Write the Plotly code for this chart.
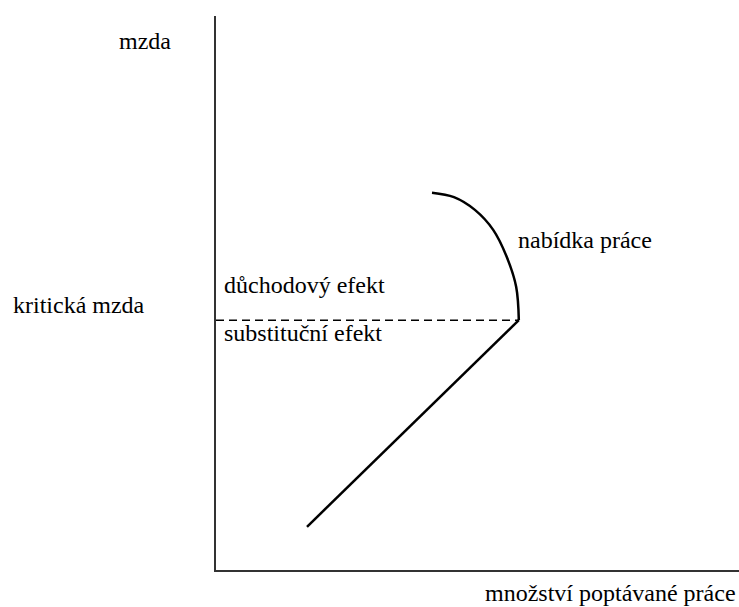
import plotly.graph_objects as go

# Values (arbitrary units, axes 0..10)
critical_wage = 4.51
kink_x = 5.79

lower_x = [1.74, 5.79]
lower_y = [0.78, 4.51]

arc_x = [5.79, 5.74, 5.56, 5.30, 4.95, 4.55, 4.13]
arc_y = [4.51, 5.11, 5.65, 6.14, 6.50, 6.73, 6.81]

dash_x = [0, kink_x]
dash_y = [critical_wage, critical_wage]

FONT = "Liberation Serif"
FS = 24

fig = go.Figure()
fig.add_trace(go.Scatter(x=dash_x, y=dash_y, mode="lines",
                         line=dict(color="black", width=1.5, dash="8px,5px"),
                         hoverinfo="skip"))
fig.add_trace(go.Scatter(x=lower_x, y=lower_y, mode="lines",
                         line=dict(color="black", width=2.5),
                         hoverinfo="skip"))
fig.add_trace(go.Scatter(x=arc_x, y=arc_y, mode="lines",
                         line=dict(color="black", width=2.5, shape="spline"),
                         hoverinfo="skip"))

# in-plot labels (data coords)
inner = [
    dict(text="důchodový efekt", x=0.12, y=5.14, xanchor="left"),
    dict(text="substituční efekt", x=0.12, y=4.28, xanchor="left"),
    dict(text="nabídka práce", x=5.74, y=5.96, xanchor="left"),
]
# labels outside the plot area (paper coords, may go beyond 0..1)
outer = [
    dict(text="mzda", x=-0.136, y=0.955, xanchor="center"),
    dict(text="kritická mzda", x=-0.392, y=0.478, xanchor="left"),
    dict(text="množství poptávané práce", x=0.998, y=-0.042, xanchor="right"),
]
annotations = []
for a in inner:
    a.update(xref="x", yref="y")
    annotations.append(a)
for a in outer:
    a.update(xref="paper", yref="paper")
    annotations.append(a)
for a in annotations:
    a.update(showarrow=False, yanchor="middle",
             font=dict(family=FONT, size=FS, color="black"))

fig.update_layout(
    width=739, height=607,
    margin=dict(l=216, r=0, t=16, b=37),
    paper_bgcolor="white", plot_bgcolor="white",
    showlegend=False,
    annotations=annotations,
    font=dict(family=FONT),
    xaxis=dict(range=[0, 10], showgrid=False, zeroline=False, showticklabels=False,
               ticks="", showline=True, linecolor="#333333", linewidth=1.5,
               fixedrange=True),
    yaxis=dict(range=[0, 10], showgrid=False, zeroline=False, showticklabels=False,
               ticks="", showline=True, linecolor="#333333", linewidth=1.5,
               fixedrange=True),
)

fig.write_html("out.html", config={"displayModeBar": False},
               post_script="document.body.style.margin='0';document.body.style.overflow='hidden';")
